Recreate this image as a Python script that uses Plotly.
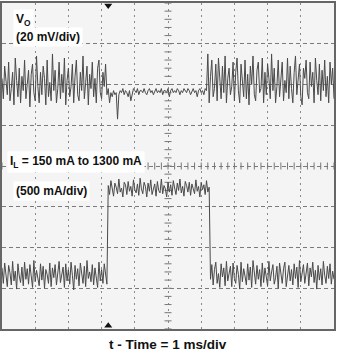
import numpy as np
import plotly.graph_objects as go

# ---------------- data ----------------
DT = 0.04  # ms between samples
T_STEP_UP = 3.2      # ms, load step start (trigger)
T_VO_RECOVER = 6.2   # ms
T_STEP_DOWN = 6.28   # ms

# Output voltage deviation, mV (20 mV/div)
vo_before = [3, -7, 9, 1, -5, 11, -8, -2, 6, -10,
             13, 2, -6, 8, -9, 4, -3, 12, -7, 0,
             7, -11, 5, 10, -4, -8, 14, -1, -9, 6,
             -5, 9, 3, -10, 12, -6, 1, -8, 15, -3,
             7, -9, -2, 11, -7, 5, -4, 13, -10, 2,
             8, -6, -1, 10, -9, 4, 12, -5, -8, 6,
             -3, 14, -7, 1, 9, -10, 5, -2, 11, -6,
             3, -9, 8, 12, -4, -7, 6, -1, 10, -5]
vo_during = [-2, -9, -4, -6, -3, -5, -4, -17, -5, -3,
             -4, -2, -5, -3, -4, -6, -3, -8, -4, -2,
             -3, -4, -2, -5, -3, -3, -4, -2, -4, -5,
             -3, -2, -4, -3, -5, -3, -2, -4, -3, -4,
             -2, -5, -3, -3, -4, -2, -6, -3, -2, -4,
             -3, -4, -2, -3, -5, -3, -4, -2, -3, -4,
             -2, -3, -5, -3, -2, -4, -3, -6, -3, -2,
             -4, -3, -5, -2, -3]
vo_after = [15, -9, 4, 12, -6, -2, 10, -8, 13, 1,
            -7, 9, -4, 14, -9, 3, 8, -5, -1, 11,
            -8, 6, 13, -3, -9, 10, 2, -6, 12, -7,
            5, -10, 9, 0, 14, -5, -8, 7, 11, -4,
            -2, 13, -9, 6, -5, 10, 3, -7, 15, -3,
            8, -9, -1, 12, -6, 4, 11, -8, 2, -4,
            13, -7, 9, -2, -9, 6, 14, -5, 1, 10,
            -6, -10, 8, 3, 12, -4, -7, 11, -1, 6,
            -9, 13, 2, -5, 10, -8, 7, -3, 12, -6,
            4, -9, 11, 0, 8, -7]

# Load current, mA (500 mA/div)
il_low_a = [250, 60, 310, 120, 20, 280, 190, 40, 330, 90,
            210, -10, 300, 150, 70, 260, 30, 320, 110, 240,
            50, 290, 180, 10, 340, 80, 220, 140, 30, 300,
            100, 270, 0, 230, 170, 60, 310, 20, 250, 130,
            290, 40, 200, 330, 70, 150, 260, 10, 300, 90,
            230, 50, 320, 160, -20, 280, 110, 240, 30, 310,
            180, 60, 270, 20, 340, 120, 200, 80, 290, 40,
            250, 140, 10, 320, 90, 230, 60, 300, 170, 50]
il_high = [1260, 1150, 1320, 1200, 1130, 1290, 1240, 1160, 1340, 1180,
           1230, 1120, 1300, 1270, 1150, 1310, 1190, 1250, 1130, 1330,
           1210, 1170, 1280, 1140, 1350, 1220, 1160, 1300, 1250, 1120,
           1290, 1190, 1330, 1150, 1240, 1280, 1130, 1310, 1200, 1170,
           1340, 1160, 1260, 1220, 1120, 1300, 1180, 1270, 1140, 1320,
           1230, 1150, 1290, 1200, 1340, 1170, 1250, 1130, 1310, 1260,
           1180, 1300, 1140, 1280, 1220, 1160, 1330, 1190, 1250, 1120,
           1300, 1210, 1270, 1150, 1320, 1180, 1240]
il_low_b = [110, 290, 40, 230, 320, 60, 180, 10, 300, 140,
            250, 30, 330, 90, 200, 270, 20, 310, 120, 60,
            280, 170, -10, 320, 80, 240, 150, 40, 300, 100,
            260, 10, 340, 190, 50, 280, 110, 230, 20, 310,
            70, 250, 160, 30, 330, 90, 200, 290, 50, 130,
            270, 0, 310, 180, 60, 240, 320, 20, 150, 280,
            90, 230, 40, 300, 120, 260, 10, 340, 80, 200,
            290, 60, 170, 310, 30, 250, 140, 320, 70, 220,
            -10, 280, 100, 240, 40, 330, 160, 60, 270, 120,
            300, 50, 210, 110]

# scope settings
T_DIV = 1.0        # ms/div, 10 div
VO_DIV = 20.0      # mV/div, 8 div
IL_DIV = 500.0     # mA/div
VO_RANGE = [-120, 40]
IL_RANGE = [-500, 3500]


def times(start, n):
    return start + DT * np.arange(n)


vo_t = np.concatenate([times(0, len(vo_before)),
                       times(T_STEP_UP, len(vo_during)),
                       times(T_VO_RECOVER, len(vo_after))])
vo_v = vo_before + vo_during + vo_after

il_t = np.concatenate([times(0, len(il_low_a)),
                       times(T_STEP_UP, len(il_high)),
                       times(T_STEP_DOWN, len(il_low_b))])
il_v = il_low_a + il_high + il_low_b

# ---------------- figure ----------------
W, H = 337, 354
ML, MR, MT, MB = 2, 3, 1, 25
PW, PH = W - ML - MR, H - MT - MB

TRACE = "#4a4a4a"
FONT = "Liberation Sans, Arial, sans-serif"

fig = go.Figure()

fig.add_trace(go.Scatter(x=vo_t, y=vo_v, mode="lines",
                         line=dict(color=TRACE, width=1), yaxis="y",
                         hoverinfo="skip", showlegend=False))
fig.add_trace(go.Scatter(x=il_t, y=il_v, mode="lines",
                         line=dict(color=TRACE, width=1), yaxis="y2",
                         hoverinfo="skip", showlegend=False))

# center graticule tick marks (every 0.2 div)
x_ticks = np.arange(0, 10 * T_DIV + 1e-9, 0.2 * T_DIV)
y_center = (VO_RANGE[0] + VO_RANGE[1]) / 2
fig.add_trace(go.Scatter(x=x_ticks, y=[y_center] * len(x_ticks), mode="markers",
                         marker=dict(symbol="line-ns", size=5,
                                     line=dict(width=1, color="#777")),
                         hoverinfo="skip", showlegend=False, cliponaxis=True))
y_ticks = np.arange(VO_RANGE[0], VO_RANGE[1] + 1e-9, 0.2 * VO_DIV)
fig.add_trace(go.Scatter(x=[5 * T_DIV] * len(y_ticks), y=y_ticks, mode="markers",
                         marker=dict(symbol="line-ew", size=5,
                                     line=dict(width=1, color="#777")),
                         hoverinfo="skip", showlegend=False, cliponaxis=True))

# trigger markers (top and bottom)
fig.add_trace(go.Scatter(x=[T_STEP_UP], y=[VO_RANGE[1] - 0.06 * VO_DIV], mode="markers",
                         marker=dict(symbol="triangle-down", size=7, color="#111"),
                         hoverinfo="skip", showlegend=False, cliponaxis=False))
fig.add_trace(go.Scatter(x=[T_STEP_UP], y=[VO_RANGE[0] + 0.08 * VO_DIV], mode="markers",
                         marker=dict(symbol="triangle-up", size=7, color="#111"),
                         hoverinfo="skip", showlegend=False, cliponaxis=False))


def px(xp):
    return (xp - ML) / PW


def py(yp):
    return (MT + PH - yp) / PH


lab = dict(family=FONT, size=12, color="#111", weight="bold")
annots = [
    dict(text="V<sub>O</sub>", x=px(13), y=py(18)),
    dict(text="(20 mV/div)", x=px(13), y=py(35)),
    dict(text="I<sub>L</sub> = 150 mA to 1300 mA", x=px(7), y=py(161)),
    dict(text="(500 mA/div)", x=px(13), y=py(190)),
]
for a in annots:
    fig.add_annotation(xref="paper", yref="paper", xanchor="left", yanchor="middle",
                       showarrow=False, font=lab, bgcolor="white", borderpad=2, **a)

fig.add_annotation(text="t - Time = 1 ms/div", xref="paper", yref="paper",
                   x=px(168), y=py(353.5), xanchor="center", yanchor="bottom",
                   borderpad=0,
                   showarrow=False, font=dict(family=FONT, size=13.5, color="#111", weight="bold"))

fig.update_layout(
    width=W, height=H,
    margin=dict(l=ML, r=MR, t=MT, b=MB),
    paper_bgcolor="white",
    plot_bgcolor="#f4f4f4",
    xaxis=dict(range=[0, 10 * T_DIV], dtick=T_DIV, tick0=0, showticklabels=False,
               ticks="", showgrid=True, gridcolor="#8a8a8a", gridwidth=1,
               griddash="2px,4px", zeroline=False,
               showline=True, mirror=True, linecolor="#666", linewidth=2),
    yaxis=dict(range=VO_RANGE, dtick=VO_DIV, tick0=0, showticklabels=False,
               ticks="", showgrid=True, gridcolor="#7a7a7a", gridwidth=1,
               griddash="4px,3px", zeroline=False,
               showline=True, mirror=True, linecolor="#666", linewidth=2),
    yaxis2=dict(range=IL_RANGE, overlaying="y", showgrid=False, showticklabels=False,
                ticks="", zeroline=False, showline=False),
    hovermode=False,
)

fig.write_html("out.html")
